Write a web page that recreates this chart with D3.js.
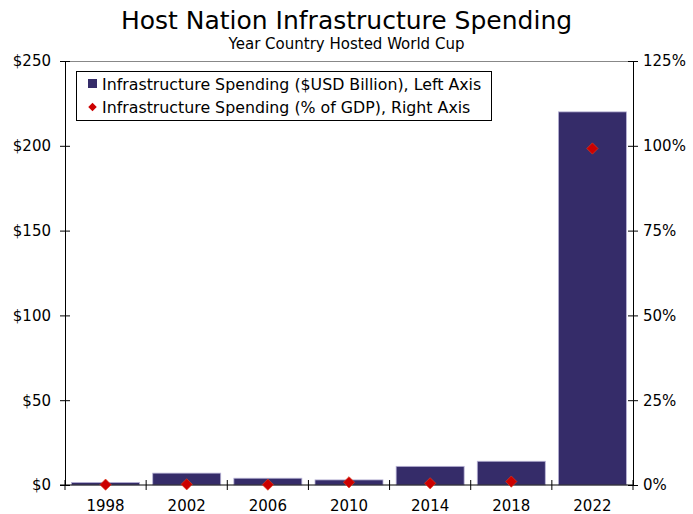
<!DOCTYPE html>
<html>
<head>
<meta charset="utf-8">
<script src="https://cdn.jsdelivr.net/npm/d3@7"></script>
<style>
  body { margin: 0; background: #fff; }
  svg { font-family: "DejaVu Sans", Verdana, sans-serif; }
</style>
</head>
<body>
<div id="chart"></div>
<script>
// values
const years = ['1998', '2002', '2006', '2010', '2014', '2018', '2022'];
const spendingUsd = [1.5, 7, 4, 3, 11, 14, 220];          // $USD billion, left axis
const spendingGdp = [0.1, 0.2, 0.1, 0.8, 0.5, 1.0, 99.2];  // % of GDP, right axis
const leftTicks = [0, 50, 100, 150, 200, 250];
const rightTicks = [0, 25, 50, 75, 100, 125];

const width = 693, height = 514;
const margin = {top: 61, right: 60, bottom: 29, left: 65};
const plotW = width - margin.left - margin.right,
      plotH = height - margin.top - margin.bottom;

const svg = d3.select('#chart').append('svg')
    .attr('width', width).attr('height', height);

svg.append('text')
    .attr('x', width / 2).attr('y', 29)
    .attr('text-anchor', 'middle')
    .style('font-size', '25px')
    .text('Host Nation Infrastructure Spending');
svg.append('text')
    .attr('x', width / 2).attr('y', 49)
    .attr('text-anchor', 'middle')
    .style('font-size', '15px')
    .text('Year Country Hosted World Cup');

const g = svg.append('g')
    .attr('transform', `translate(${margin.left},${margin.top})`);

const xBand = d3.scaleBand().domain(years).range([0, plotW]);
const yL = d3.scaleLinear().domain([0, 250]).range([plotH, 0]);
const yR = d3.scaleLinear().domain([0, 125]).range([plotH, 0]);

// top border
g.append('line')
    .attr('x1', -3).attr('x2', plotW).attr('y1', 0.5).attr('y2', 0.5)
    .attr('stroke', '#888');

// bars
g.selectAll('rect.bar')
    .data(years)
    .enter().append('rect')
    .attr('class', 'bar')
    .attr('x', d => xBand(d) + (xBand.bandwidth() - 68) / 2)
    .attr('width', 68)
    .attr('y', (d, i) => yL(spendingUsd[i]))
    .attr('height', (d, i) => plotH - yL(spendingUsd[i]))
    .attr('fill', '#352c69')
    .attr('stroke', '#b9b4d6')
    .attr('stroke-width', 0.8);

// axes
const leftAxis = d3.axisLeft(yL).tickValues(leftTicks).tickSize(0).tickPadding(14)
    .tickFormat(d => '$' + d);
const rightAxis = d3.axisRight(yR).tickValues(rightTicks).tickSize(0).tickPadding(10)
    .tickFormat(d => d + '%');

const gl = g.append('g').call(leftAxis);
const gr = g.append('g').attr('transform', `translate(${plotW},0)`).call(rightAxis);
[gl, gr].forEach(a => {
    a.select('.domain').attr('stroke', '#000');
    a.selectAll('.tick line').attr('x1', -5).attr('x2', 5).attr('stroke', '#000');
    a.selectAll('.tick text').style('font-size', '15px').attr('fill', '#000')
        .style('font-family', '"DejaVu Sans", Verdana, sans-serif');
});

// x axis with ticks at band edges
const gx = g.append('g').attr('transform', `translate(0,${plotH})`);
gx.append('line').attr('x1', -5).attr('x2', plotW).attr('stroke', '#000');
gx.selectAll('line.tk')
    .data(years.map(d => xBand(d)).concat([plotW]))
    .enter().append('line')
    .attr('x1', d => d).attr('x2', d => d)
    .attr('y1', -5).attr('y2', 5)
    .attr('stroke', '#000');
gx.selectAll('text')
    .data(years)
    .enter().append('text')
    .attr('x', d => xBand(d) + xBand.bandwidth() / 2)
    .attr('y', 21)
    .attr('dy', '0.32em')
    .attr('text-anchor', 'middle')
    .style('font-size', '15px')
    .text(d => d);

// diamonds
const diamond = d3.symbol().type(d3.symbolSquare).size(64);
g.selectAll('path.pt')
    .data(years)
    .enter().append('path')
    .attr('class', 'pt')
    .attr('d', diamond)
    .attr('transform', (d, i) =>
        `translate(${xBand(d) + xBand.bandwidth() / 2},${yR(spendingGdp[i])}) rotate(45)`)
    .attr('fill', '#cc0000')
    .attr('stroke', '#e04020')
    .attr('stroke-width', 0.6);

// legend
const lg = svg.append('g').attr('transform', 'translate(76,71)');
lg.append('rect').attr('x', 0.5).attr('y', 0.5).attr('width', 415).attr('height', 49)
    .attr('fill', '#fff').attr('stroke', '#000');
lg.append('rect').attr('x', 12).attr('y', 8).attr('width', 9).attr('height', 9)
    .attr('fill', '#352c69');
lg.append('path').attr('d', d3.symbol().type(d3.symbolSquare).size(36))
    .attr('transform', 'translate(16.5,36) rotate(45)')
    .attr('fill', '#cc0000');
lg.append('text').attr('x', 26).attr('y', 13).attr('dy', '0.35em')
    .style('font-size', '15.8px')
    .text('Infrastructure Spending ($USD Billion), Left Axis');
lg.append('text').attr('x', 26).attr('y', 36).attr('dy', '0.35em')
    .style('font-size', '15.8px')
    .text('Infrastructure Spending (% of GDP), Right Axis');
</script>
</body>
</html>
